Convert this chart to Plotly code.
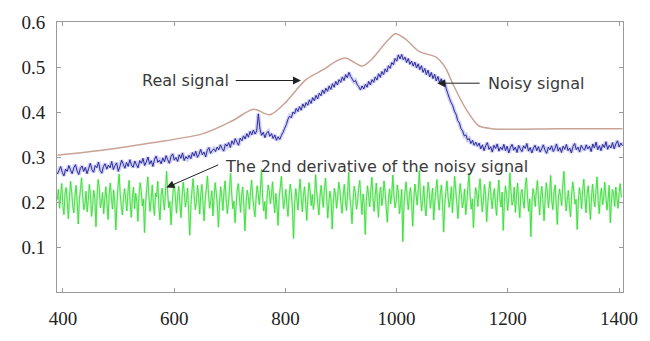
import numpy as np
import plotly.graph_objects as go

# ---------------- data ----------------
real_x = [390, 477, 563, 652, 704, 743, 772, 801, 819, 837, 868, 890, 908, 938,
          956, 979, 998, 1016, 1041, 1071, 1087, 1102, 1124, 1147, 1170, 1289, 1406]
real_y = [0.304, 0.316, 0.332, 0.352, 0.380, 0.406, 0.394, 0.422, 0.448, 0.472,
          0.494, 0.512, 0.520, 0.502, 0.518, 0.552, 0.574, 0.562, 0.534, 0.522,
          0.500, 0.460, 0.408, 0.370, 0.363, 0.363, 0.363]

noisy_y = [
    0.262, 0.270, 0.279, 0.266, 0.258, 0.273, 0.268, 0.281, 0.271, 0.263, 0.276, 0.283, 0.269, 0.261, 0.275, 0.280,
    0.268, 0.277, 0.263, 0.274, 0.286, 0.272, 0.266, 0.281, 0.276, 0.289, 0.270, 0.264, 0.279, 0.285, 0.273, 0.282,
    0.276, 0.290, 0.272, 0.281, 0.287, 0.268, 0.279, 0.293, 0.284, 0.275, 0.288, 0.279, 0.294, 0.282, 0.277, 0.291,
    0.283, 0.276, 0.292, 0.286, 0.297, 0.281, 0.289, 0.300, 0.284, 0.292, 0.279, 0.295, 0.302, 0.288, 0.293, 0.285,
    0.298, 0.289, 0.303, 0.294, 0.286, 0.301, 0.307, 0.293, 0.299, 0.290, 0.305, 0.297, 0.309, 0.292, 0.301, 0.296,
    0.304, 0.296, 0.310, 0.302, 0.313, 0.299, 0.306, 0.317, 0.305, 0.311, 0.300, 0.315, 0.321, 0.308, 0.314, 0.318,
    0.312, 0.322, 0.316, 0.327, 0.319, 0.313, 0.329, 0.324, 0.332, 0.321, 0.336, 0.328, 0.341, 0.333, 0.326, 0.342,
    0.336, 0.347, 0.340, 0.352, 0.344, 0.357, 0.349, 0.360, 0.351, 0.358, 0.396, 0.362, 0.348, 0.355, 0.343, 0.353,
    0.357, 0.346, 0.352, 0.341, 0.349, 0.337, 0.345, 0.339, 0.348, 0.355, 0.364, 0.372, 0.384, 0.391, 0.387, 0.400,
    0.396, 0.408, 0.401, 0.412, 0.404, 0.418, 0.410, 0.421, 0.415, 0.427, 0.419, 0.432, 0.425, 0.437, 0.429, 0.442,
    0.436, 0.449, 0.441, 0.453, 0.446, 0.458, 0.450, 0.463, 0.455, 0.468, 0.460, 0.472, 0.466, 0.478, 0.470, 0.483,
    0.476, 0.488, 0.479, 0.473, 0.467, 0.470, 0.461, 0.456, 0.449, 0.458, 0.451, 0.462, 0.455, 0.468, 0.460, 0.472,
    0.466, 0.478, 0.471, 0.485, 0.477, 0.490, 0.483, 0.496, 0.489, 0.503, 0.497, 0.510, 0.505, 0.519, 0.513, 0.527,
    0.518, 0.528, 0.516, 0.522, 0.510, 0.519, 0.506, 0.513, 0.502, 0.511, 0.498, 0.507, 0.494, 0.503, 0.488, 0.497,
    0.483, 0.493, 0.478, 0.488, 0.474, 0.484, 0.469, 0.479, 0.465, 0.474, 0.460, 0.468, 0.452, 0.441, 0.430, 0.421,
    0.414, 0.402, 0.395, 0.381, 0.376, 0.363, 0.358, 0.347, 0.349, 0.338, 0.341, 0.330, 0.337, 0.326, 0.333, 0.324,
    0.331, 0.318, 0.327, 0.314, 0.325, 0.332, 0.317, 0.323, 0.311, 0.326, 0.319, 0.329, 0.313, 0.322, 0.316, 0.328,
    0.314, 0.324, 0.309, 0.321, 0.328, 0.315, 0.322, 0.310, 0.326, 0.318, 0.312, 0.325, 0.319, 0.330, 0.313, 0.321,
    0.309, 0.320, 0.326, 0.314, 0.323, 0.311, 0.318, 0.327, 0.315, 0.308, 0.322, 0.316, 0.325, 0.312, 0.319, 0.329,
    0.313, 0.321, 0.310, 0.324, 0.317, 0.328, 0.314, 0.320, 0.309, 0.323, 0.330, 0.316, 0.322, 0.311, 0.326, 0.319,
    0.315, 0.327, 0.318, 0.324, 0.312, 0.329, 0.320, 0.333, 0.316, 0.325, 0.314, 0.328, 0.321, 0.334, 0.317, 0.326,
    0.320, 0.332, 0.318, 0.329, 0.336, 0.322, 0.331, 0.325,
]
noisy_x = np.linspace(390, 1406, len(noisy_y))

deriv_y = [
    0.205, 0.228, 0.186, 0.214, 0.241, 0.193, 0.172, 0.219, 0.232, 0.201, 0.163, 0.210, 0.246, 0.222, 0.189, 0.176,
    0.215, 0.237, 0.198, 0.151, 0.206, 0.229, 0.254, 0.211, 0.183, 0.196, 0.224, 0.178, 0.203, 0.239, 0.217, 0.168,
    0.192, 0.226, 0.208, 0.145, 0.213, 0.250, 0.231, 0.187, 0.199, 0.221, 0.174, 0.207, 0.234, 0.196, 0.161, 0.218,
    0.242, 0.209, 0.184, 0.227, 0.200, 0.138, 0.195, 0.236, 0.262, 0.216, 0.190, 0.171, 0.212, 0.230, 0.204, 0.180,
    0.223, 0.248, 0.197, 0.166, 0.209, 0.233, 0.185, 0.219, 0.202, 0.157, 0.214, 0.243, 0.225, 0.191, 0.207, 0.132,
    0.198, 0.229, 0.256, 0.212, 0.179, 0.204, 0.238, 0.193, 0.170, 0.220, 0.211, 0.246, 0.188, 0.160, 0.215, 0.231,
    0.206, 0.182, 0.224, 0.268, 0.218, 0.187, 0.201, 0.149, 0.194, 0.227, 0.240, 0.208, 0.175, 0.213, 0.235, 0.197,
    0.165, 0.210, 0.244, 0.222, 0.189, 0.205, 0.231, 0.178, 0.126, 0.192, 0.226, 0.252, 0.214, 0.183, 0.199, 0.237,
    0.211, 0.173, 0.218, 0.239, 0.195, 0.158, 0.207, 0.230, 0.258, 0.216, 0.186, 0.203, 0.225, 0.169, 0.210, 0.243,
    0.220, 0.191, 0.144, 0.200, 0.234, 0.212, 0.181, 0.223, 0.247, 0.205, 0.174, 0.196, 0.229, 0.264, 0.217, 0.185,
    0.202, 0.154, 0.193, 0.228, 0.241, 0.209, 0.177, 0.215, 0.233, 0.190, 0.136, 0.198, 0.226, 0.212, 0.184, 0.221,
    0.249, 0.213, 0.188, 0.167, 0.206, 0.236, 0.219, 0.194, 0.227, 0.272, 0.210, 0.180, 0.201, 0.162, 0.208, 0.238,
    0.225, 0.196, 0.214, 0.245, 0.203, 0.176, 0.219, 0.190, 0.148, 0.211, 0.232, 0.257, 0.216, 0.185, 0.204, 0.228,
    0.193, 0.168, 0.212, 0.240, 0.221, 0.187, 0.119, 0.197, 0.230, 0.209, 0.182, 0.224, 0.251, 0.207, 0.178, 0.215,
    0.234, 0.200, 0.159, 0.208, 0.243, 0.226, 0.192, 0.217, 0.183, 0.205, 0.261, 0.222, 0.196, 0.171, 0.213, 0.237,
    0.209, 0.188, 0.229, 0.253, 0.214, 0.164, 0.198, 0.224, 0.206, 0.140, 0.195, 0.231, 0.218, 0.186, 0.211, 0.244,
    0.227, 0.194, 0.175, 0.216, 0.239, 0.203, 0.181, 0.220, 0.266, 0.212, 0.190, 0.152, 0.207, 0.235, 0.221, 0.184,
    0.199, 0.230, 0.248, 0.210, 0.172, 0.218, 0.197, 0.128, 0.204, 0.236, 0.215, 0.189, 0.226, 0.255, 0.208, 0.179,
    0.214, 0.242, 0.201, 0.166, 0.219, 0.233, 0.192, 0.210, 0.247, 0.223, 0.185, 0.155, 0.206, 0.229, 0.196, 0.217,
    0.260, 0.213, 0.187, 0.202, 0.238, 0.220, 0.174, 0.195, 0.228, 0.112, 0.190, 0.224, 0.245, 0.209, 0.183, 0.216,
    0.232, 0.198, 0.146, 0.207, 0.240, 0.218, 0.193, 0.225, 0.270, 0.214, 0.180, 0.203, 0.236, 0.191, 0.169, 0.211,
    0.244, 0.221, 0.186, 0.208, 0.231, 0.160, 0.199, 0.227, 0.250, 0.206, 0.182, 0.219, 0.238, 0.200, 0.133, 0.194,
    0.223, 0.247, 0.212, 0.188, 0.205, 0.234, 0.176, 0.215, 0.257, 0.226, 0.195, 0.163, 0.210, 0.241, 0.218, 0.187,
    0.201, 0.229, 0.172, 0.196, 0.235, 0.263, 0.213, 0.184, 0.207, 0.143, 0.199, 0.232, 0.220, 0.190, 0.227, 0.252,
    0.211, 0.178, 0.204, 0.239, 0.217, 0.156, 0.197, 0.225, 0.246, 0.209, 0.185, 0.214, 0.230, 0.194, 0.170, 0.218,
    0.249, 0.206, 0.189, 0.222, 0.137, 0.200, 0.236, 0.215, 0.181, 0.210, 0.265, 0.224, 0.193, 0.202, 0.233, 0.177,
    0.213, 0.242, 0.198, 0.165, 0.219, 0.228, 0.203, 0.186, 0.237, 0.254, 0.211, 0.179, 0.207, 0.123, 0.196, 0.230,
    0.217, 0.190, 0.226, 0.248, 0.205, 0.171, 0.214, 0.235, 0.199, 0.158, 0.208, 0.243, 0.222, 0.187, 0.216, 0.259,
    0.202, 0.183, 0.221, 0.238, 0.196, 0.150, 0.209, 0.229, 0.212, 0.192, 0.240, 0.268, 0.215, 0.180, 0.204, 0.226,
    0.191, 0.167, 0.218, 0.245, 0.223, 0.195, 0.206, 0.139, 0.201, 0.232, 0.214, 0.185, 0.228, 0.251, 0.210, 0.176,
    0.220, 0.236, 0.198, 0.161, 0.212, 0.240, 0.207, 0.189, 0.225, 0.256, 0.203, 0.174, 0.216, 0.231, 0.194, 0.209,
    0.244, 0.213, 0.182, 0.205, 0.237, 0.154, 0.199, 0.228, 0.218, 0.190, 0.233, 0.208, 0.186, 0.221, 0.241, 0.210,
]
deriv_x = np.linspace(390, 1404, len(deriv_y))

x_ticks = [400, 600, 800, 1000, 1200, 1400]
y_ticks = [0.1, 0.2, 0.3, 0.4, 0.5, 0.6]

# annotations: (label, text x, text y, text anchor, arrow tail x, tail y, head x, head y)
labels = [
    ("Real signal", 703, 0.470, "right", 708, 0.470, 828, 0.470),
    ("Noisy signal", 1160, 0.464, "left", 1152, 0.464, 1073, 0.464),
    ("The 2nd derivative of the noisy signal", 688, 0.279, "left", 682, 0.284, 586, 0.232),
]

# ---------------- figure ----------------
fig = go.Figure()

fig.add_trace(go.Scatter(x=deriv_x, y=deriv_y, mode="lines",
                         line=dict(color="rgba(130,220,130,0.35)", width=2.5, simplify=False),
                         hoverinfo="skip", showlegend=False))
fig.add_trace(go.Scatter(x=deriv_x, y=deriv_y, mode="lines",
                         line=dict(color="#33e033", width=0.9, simplify=False),
                         name="2nd derivative", showlegend=False))

fig.add_trace(go.Scatter(x=noisy_x, y=noisy_y, mode="lines",
                         line=dict(color="rgba(150,150,230,0.45)", width=4, simplify=False),
                         hoverinfo="skip", showlegend=False))
fig.add_trace(go.Scatter(x=noisy_x, y=noisy_y, mode="lines",
                         line=dict(color="#2a2a9c", width=1.0, simplify=False),
                         name="Noisy signal", showlegend=False))

fig.add_trace(go.Scatter(x=real_x, y=real_y, mode="lines",
                         line=dict(color="#c9a395", width=1.5, shape="spline", smoothing=0.8),
                         name="Real signal", showlegend=False))

for text, tx, ty, anchor, ax_, ay_, hx, hy in labels:
    fig.add_annotation(x=tx, y=ty, xref="x", yref="y", text=text, showarrow=False,
                       xanchor=anchor,
                       font=dict(family="DejaVu Sans", size=16, color="#3a3a3a"))
    fig.add_annotation(x=hx, y=hy, ax=ax_, ay=ay_, xref="x", yref="y",
                       axref="x", ayref="y", text="", showarrow=True,
                       arrowhead=2, arrowsize=1.6, arrowwidth=1, arrowcolor="#222222")

axis_common = dict(showline=True, linecolor="#9a9a9a", linewidth=1, mirror="ticks",
                   ticks="inside", ticklen=4, tickcolor="#9a9a9a",
                   showgrid=False, zeroline=False,
                   tickfont=dict(family="Liberation Serif", size=19, color="#222222"))

fig.update_xaxes(range=[389.4, 1407], tickvals=x_ticks,
                 ticktext=[str(v) for v in x_ticks], ticklabelstandoff=9, **axis_common)
fig.update_yaxes(range=[0, 0.6], tickvals=y_ticks,
                 ticktext=[f"{v:.1f}" for v in y_ticks], ticklabelstandoff=7, **axis_common)

fig.update_layout(width=650, height=341, margin=dict(l=57, r=18, t=13, b=28),
                  paper_bgcolor="white", plot_bgcolor="white", showlegend=False)

fig.write_html("out.html")
